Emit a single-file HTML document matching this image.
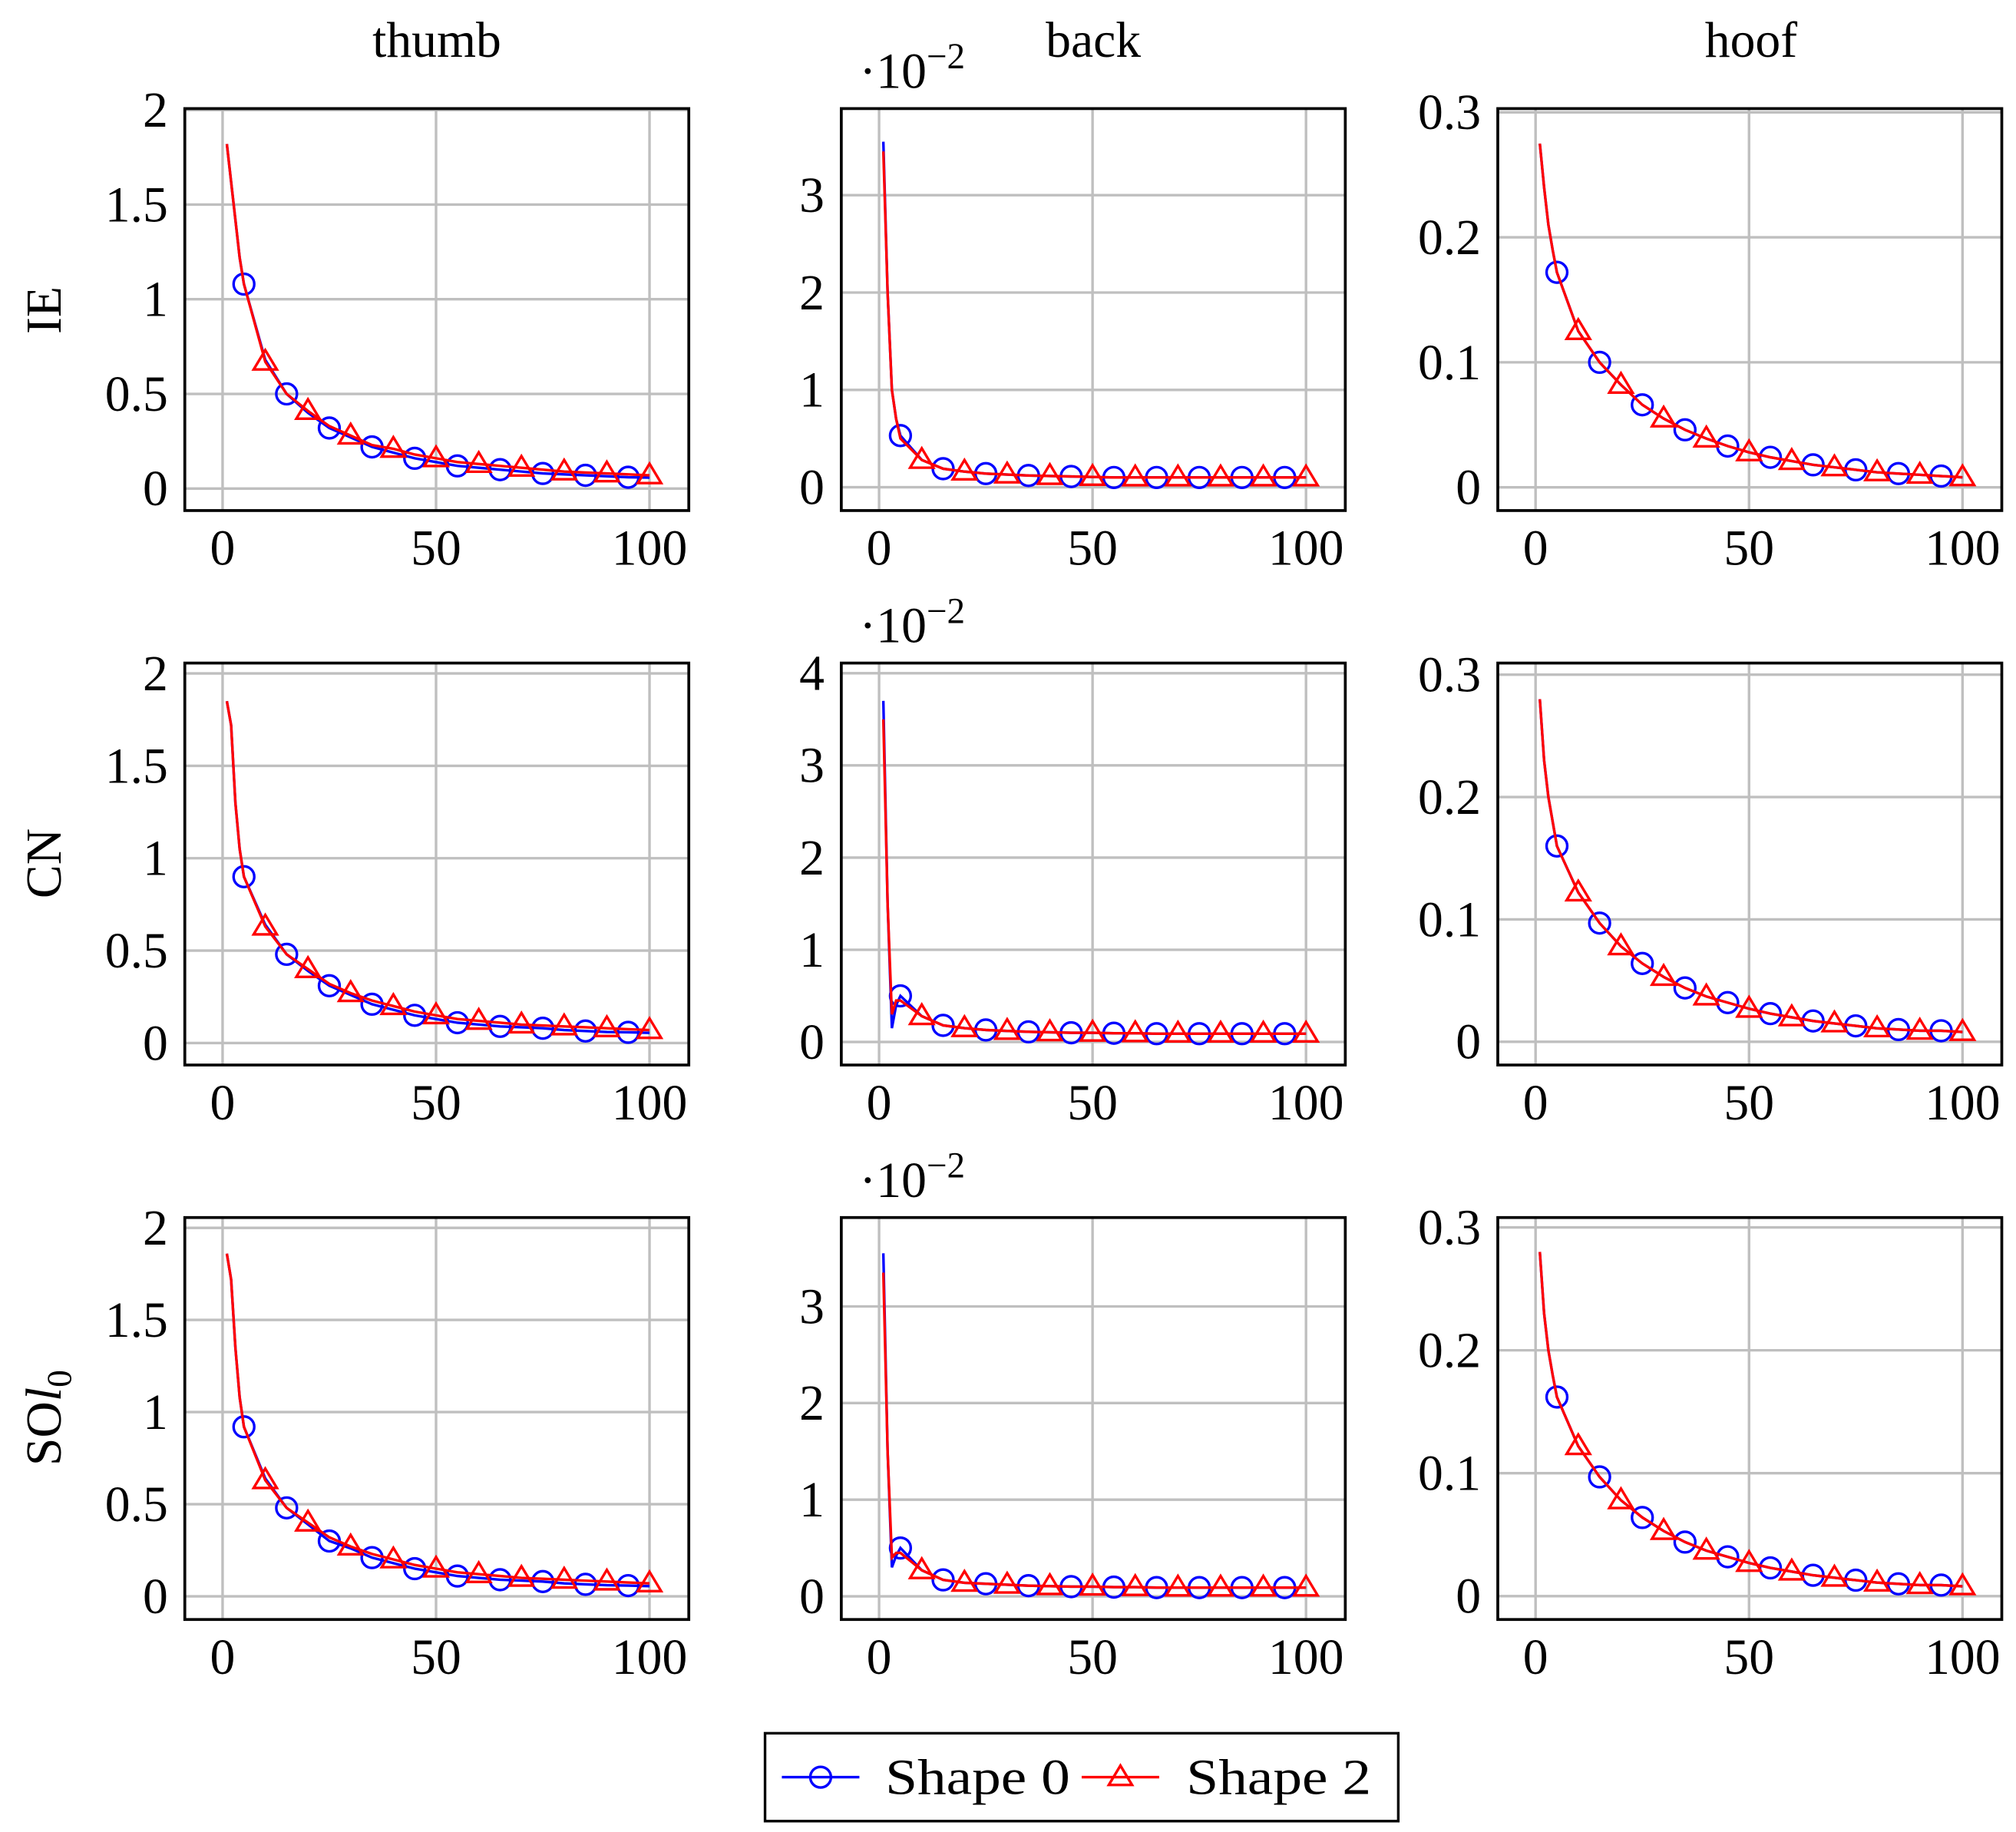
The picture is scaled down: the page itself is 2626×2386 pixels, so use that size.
<!DOCTYPE html>
<html><head><meta charset="utf-8"><style>
html,body{margin:0;padding:0;background:#fff;}
svg{display:block;}
text{font-family:"Liberation Serif",serif;fill:#000;}
</style></head><body>
<svg id="fig" width="2626" height="2386" viewBox="0 0 1560 1417.4" xmlns="http://www.w3.org/2000/svg">
<g>
<text x="338" y="44" font-size="39" text-anchor="middle">thumb</text>
<text x="846" y="44" font-size="39" text-anchor="middle">back</text>
<text x="1355" y="44" font-size="39" text-anchor="middle">hoof</text>
</g>
<g>
<text transform="translate(47,240) rotate(-90)" font-size="39" text-anchor="middle">IE</text>
<text transform="translate(47,668) rotate(-90)" font-size="39" text-anchor="middle">CN</text>
<text transform="translate(47,1097) rotate(-90)" font-size="39" text-anchor="middle">SO<tspan font-style="italic">l</tspan><tspan font-size="27" dy="8">0</tspan></text>
</g>
<g id="panels"></g>
<g>
<rect x="592" y="1341" width="490" height="68" fill="#fff" stroke="#000" stroke-width="2"/>
<g>
<line x1="605" y1="1375" x2="665" y2="1375" stroke="#0000ff" stroke-width="2"/>
<circle cx="635" cy="1375" r="8" fill="none" stroke="#0000ff" stroke-width="2"/>
<text x="685" y="1388" font-size="39" textLength="143" lengthAdjust="spacingAndGlyphs">Shape 0</text>
</g>
<g>
<line x1="837" y1="1375" x2="897" y2="1375" stroke="#ff0000" stroke-width="2"/>
<polygon points="867,1366 876,1381 858,1381" fill="none" stroke="#ff0000" stroke-width="2"/>
<text x="918" y="1388" font-size="39" textLength="143" lengthAdjust="spacingAndGlyphs">Shape 2</text>
</g>
</g>
</svg>
<script>
const xs = [1,2,3,4,5,10,15,20,25,30,35,40,45,50,55,60,65,70,75,80,85,90,95,100];
const xTicks = [0,50,100];
const thumbIE0 = [1.82,1.62,1.42,1.22,1.08,0.68,0.50,0.40,0.32,0.27,0.22,0.19,0.16,0.14,0.12,0.11,0.10,0.09,0.08,0.075,0.07,0.065,0.06,0.058];
const thumbIE2 = [1.82,1.62,1.42,1.22,1.08,0.67,0.50,0.41,0.33,0.28,0.23,0.21,0.18,0.16,0.14,0.13,0.12,0.11,0.10,0.09,0.085,0.08,0.075,0.07];
const thumbCN0 = [1.85,1.72,1.30,1.05,0.90,0.64,0.48,0.39,0.31,0.26,0.21,0.18,0.15,0.13,0.11,0.10,0.09,0.085,0.08,0.07,0.065,0.06,0.058,0.055];
const thumbCN2 = [1.85,1.72,1.30,1.05,0.90,0.63,0.48,0.40,0.32,0.27,0.23,0.20,0.17,0.15,0.13,0.12,0.11,0.10,0.095,0.09,0.085,0.08,0.075,0.07];
const thumbSO0 = [1.86,1.72,1.35,1.08,0.92,0.64,0.48,0.39,0.30,0.26,0.21,0.18,0.15,0.13,0.11,0.10,0.09,0.085,0.08,0.07,0.065,0.06,0.058,0.055];
const thumbSO2 = [1.86,1.72,1.35,1.08,0.92,0.63,0.48,0.40,0.32,0.27,0.23,0.20,0.17,0.15,0.13,0.12,0.11,0.10,0.095,0.09,0.085,0.08,0.075,0.07];
const backIE0 = [3.55,2.0,1.0,0.7,0.53,0.28,0.19,0.16,0.14,0.13,0.12,0.115,0.11,0.105,0.1,0.1,0.1,0.1,0.1,0.1,0.1,0.1,0.1,0.1];
const backIE2 = [3.45,2.0,1.0,0.7,0.50,0.28,0.19,0.16,0.14,0.13,0.12,0.115,0.11,0.105,0.1,0.1,0.1,0.1,0.1,0.1,0.1,0.1,0.1,0.1];
const backCN0 = [3.7,1.5,0.15,0.40,0.50,0.28,0.18,0.15,0.13,0.12,0.11,0.105,0.1,0.1,0.095,0.095,0.09,0.09,0.09,0.09,0.09,0.09,0.09,0.09];
const backCN2 = [3.5,1.5,0.30,0.45,0.45,0.28,0.18,0.15,0.13,0.12,0.11,0.105,0.1,0.1,0.095,0.095,0.09,0.09,0.09,0.09,0.09,0.09,0.09,0.09];
const backSO0 = [3.55,1.5,0.30,0.42,0.50,0.27,0.17,0.14,0.13,0.12,0.11,0.105,0.1,0.1,0.095,0.095,0.09,0.09,0.09,0.09,0.09,0.09,0.09,0.09];
const backSO2 = [3.35,1.5,0.40,0.45,0.45,0.27,0.17,0.14,0.13,0.12,0.11,0.105,0.1,0.1,0.095,0.095,0.09,0.09,0.09,0.09,0.09,0.09,0.09,0.09];
const hoofIE0 = [0.275,0.24,0.21,0.19,0.172,0.125,0.100,0.082,0.066,0.055,0.046,0.039,0.033,0.028,0.024,0.021,0.018,0.016,0.014,0.012,0.011,0.010,0.009,0.008];
const hoofIE2 = hoofIE0.slice();
const hoofCN0 = [0.28,0.23,0.20,0.18,0.160,0.122,0.097,0.078,0.064,0.053,0.044,0.037,0.032,0.027,0.023,0.020,0.017,0.015,0.013,0.011,0.010,0.009,0.009,0.008];
const hoofCN2 = hoofCN0.slice();
const hoofSO0 = [0.28,0.23,0.20,0.18,0.162,0.122,0.097,0.078,0.064,0.053,0.044,0.037,0.032,0.027,0.023,0.020,0.017,0.015,0.013,0.011,0.010,0.009,0.009,0.008];
const hoofSO2 = hoofSO0.slice();
const thumbTicks = [0,0.5,1,1.5,2];
const thumbTickLabels = ["0","0.5","1","1.5","2"];
const backTicks3 = [0,1,2,3];
const backTicks4 = [0,1,2,3,4];
const hoofTicks = [0,0.1,0.2,0.3];
const hoofTickLabels = ["0","0.1","0.2","0.3"];

const colX = [143,651,1159], colW = 390;
const rowY = [84,513,942], rowH = 311;
const XMIN = -8.85, XMAX = 109.2;
const panels = [
 {r:0,c:0,s0:thumbIE0,s2:thumbIE2,ymin:-0.116,ymax:2.007,ticks:thumbTicks,labels:thumbTickLabels},
 {r:0,c:1,s0:backIE0,s2:backIE2,ymin:-0.24,ymax:3.89,ticks:backTicks3,labels:backTicks3.map(String),mult:true},
 {r:0,c:2,s0:hoofIE0,s2:hoofIE2,ymin:-0.0186,ymax:0.303,ticks:hoofTicks,labels:hoofTickLabels},
 {r:1,c:0,s0:thumbCN0,s2:thumbCN2,ymin:-0.119,ymax:2.056,ticks:thumbTicks,labels:thumbTickLabels},
 {r:1,c:1,s0:backCN0,s2:backCN2,ymin:-0.25,ymax:4.11,ticks:backTicks4,labels:backTicks4.map(String),mult:true},
 {r:1,c:2,s0:hoofCN0,s2:hoofCN2,ymin:-0.019,ymax:0.3095,ticks:hoofTicks,labels:hoofTickLabels},
 {r:2,c:0,s0:thumbSO0,s2:thumbSO2,ymin:-0.126,ymax:2.056,ticks:thumbTicks,labels:thumbTickLabels},
 {r:2,c:1,s0:backSO0,s2:backSO2,ymin:-0.24,ymax:3.92,ticks:backTicks3,labels:backTicks3.map(String),mult:true},
 {r:2,c:2,s0:hoofSO0,s2:hoofSO2,ymin:-0.019,ymax:0.308,ticks:hoofTicks,labels:hoofTickLabels}
];
const rowNames=["ie","cn","sol0"], colNames=["thumb","back","hoof"];
const NS="http://www.w3.org/2000/svg";
const root=document.getElementById('panels');
function mk(tag,attrs,parent){const e=document.createElementNS(NS,tag);for(const k in attrs)e.setAttribute(k,attrs[k]);parent.appendChild(e);return e;}
panels.forEach(p=>{
  const L=colX[p.c],T=rowY[p.r],R=L+colW,B=T+rowH;
  const sx=v=>L+(v-XMIN)/(XMAX-XMIN)*colW;
  const sy=v=>B-(v-p.ymin)/(p.ymax-p.ymin)*rowH;
  const g=mk('g',{},root);
  
  
  const grid=mk('g',{stroke:'#bfbfbf','stroke-width':2},g);
  
  
  xTicks.forEach(t=>{mk('line',{x1:sx(t),x2:sx(t),y1:T,y2:B},grid);
    const tx=mk('text',{x:sx(t),y:B+42,'font-size':39,'text-anchor':'middle'},g);
    
    
    tx.textContent=t;});
  p.ticks.forEach((t,i)=>{mk('line',{x1:L,x2:R,y1:sy(t),y2:sy(t)},grid);
    const tx=mk('text',{x:L-13,y:sy(t)+13,'font-size':39,'text-anchor':'end'},g);
    
    
    tx.textContent=p.labels[i];});
  if(p.mult){const m=mk('text',{x:L+14,y:T-16,'font-size':39},g);
    
    
    m.innerHTML='·10<tspan font-size="28" dy="-15">−2</tspan>';}
  const clip='clip'+p.r+p.c;
  const cp=mk('clipPath',{id:clip},g);mk('rect',{x:L,y:T,width:colW,height:rowH},cp);
  const series=[[p.s0,'#0000ff',5],[p.s2,'#ff0000',0]];
  series.forEach(([data,col,mod],si)=>{
    const sg=mk('g',{'clip-path':'url(#'+clip+')'},g);
    
    
    const d=xs.map((x,i)=>(i?'L':'M')+sx(x).toFixed(2)+','+sy(data[i]).toFixed(2)).join('');
    mk('path',{d:d,fill:'none',stroke:col,'stroke-width':2},sg);
    xs.forEach((x,i)=>{ if(x%10!==mod) return;
      const X=sx(x),Y=sy(data[i]);
      let m;
      if(si===0) m=mk('circle',{cx:X,cy:Y,r:8,fill:'none',stroke:col,'stroke-width':2},sg);
      else m=mk('polygon',{points:`${X},${Y-9} ${X+9},${Y+6} ${X-9},${Y+6}`,fill:'none',stroke:col,'stroke-width':2},sg);
      
      
    });
  });
  const box=mk('rect',{x:L,y:T,width:colW,height:rowH,fill:'none',stroke:'#000','stroke-width':2.2},g);
  
  
});
</script>
</body></html>
